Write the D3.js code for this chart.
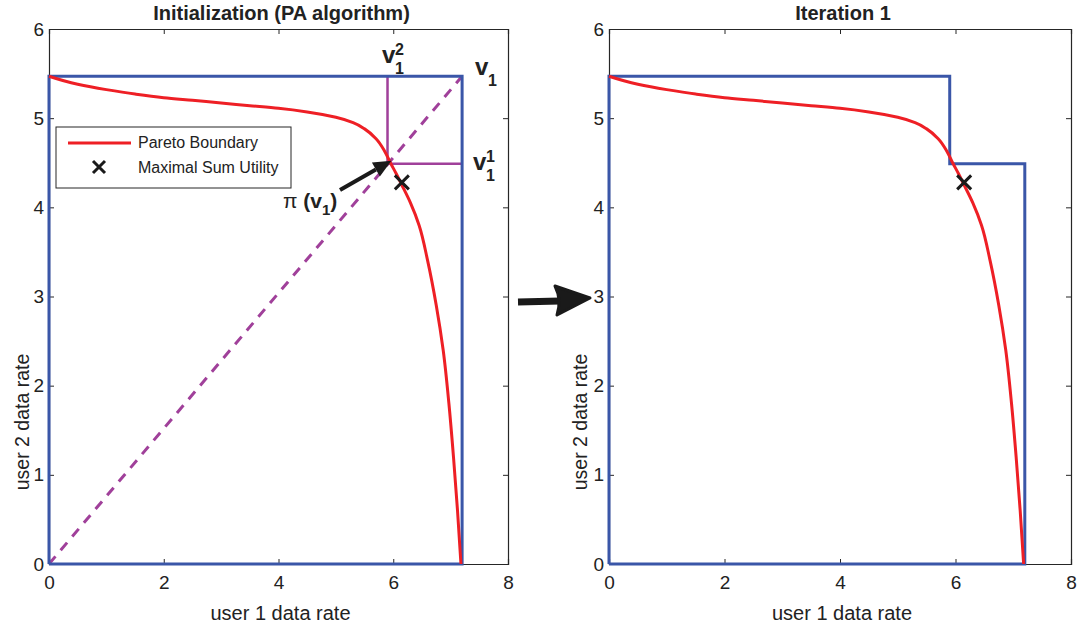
<!DOCTYPE html>
<html><head><meta charset="utf-8">
<script src="https://cdn.jsdelivr.net/npm/d3@7"></script>
<style>body{margin:0;background:#fff}svg{display:block}text{font-family:"Liberation Sans",Arial,sans-serif}</style>
</head><body><svg id="c" width="1078" height="628"></svg>
<script>
const xTicks=[0,2,4,6,8];
const yTicks=[0,1,2,3,4,5,6];
const paretoX=[0,0.5,1,1.5,2,2.5,3,3.5,4,4.5,5,5.3,5.5,5.7,5.85,5.95,6.05,6.15,6.3,6.45,6.6,6.75,6.87,6.97,7.05,7.12,7.18];
const paretoY=[5.47,5.38,5.32,5.27,5.23,5.2,5.17,5.14,5.11,5.07,5.01,4.95,4.88,4.77,4.63,4.5,4.38,4.25,4.05,3.8,3.4,2.9,2.4,1.8,1.2,0.6,0];
const v1=[7.2,5.47];
const piv1=[5.9,4.49];
const maxSum=[6.15,4.28];
const titles=["Initialization (PA algorithm)","Iteration 1"];

const svg=d3.select("#c");
const panels=[{x0:49,x1:508,ylx:29},{x0:609,x1:1071,ylx:587}];
const yTop=29,yBot=564;
const blue="#3a56a8",red="#ee1f25",purple="#a0409a",ink="#222";

panels.forEach((p,i)=>{
  const x=d3.scaleLinear().domain([0,8]).range([p.x0,p.x1]);
  const y=d3.scaleLinear().domain([0,6]).range([yBot,yTop]);
  const g=svg.append("g");
  const fmt=d3.format("d");
  const ax=g.append("g").attr("transform",`translate(0,${yBot})`).call(d3.axisBottom(x).tickValues(xTicks).tickFormat(fmt).tickSize(-5).tickPadding(11));
  const axT=g.append("g").attr("transform",`translate(0,${yTop})`).call(d3.axisTop(x).tickValues(xTicks).tickSize(-5).tickFormat(""));
  const ay=g.append("g").attr("transform",`translate(${p.x0},0)`).call(d3.axisLeft(y).tickValues(yTicks).tickFormat(fmt).tickSize(-5).tickPadding(5));
  const ayR=g.append("g").attr("transform",`translate(${p.x1},0)`).call(d3.axisRight(y).tickValues(yTicks).tickSize(-5).tickFormat(""));
  [ax,axT,ay,ayR].forEach(a=>{a.attr("font-size",null).attr("font-family",null);a.selectAll("path").attr("stroke","#262626").attr("stroke-width",1.2);a.selectAll("line").attr("stroke","#262626");a.selectAll("text").style("font-size","19px").attr("fill",ink);});
  ax.selectAll("text").attr("dy","0.75em");
  g.append("text").attr("x",(p.x0+p.x1)/2+3).attr("y",20).attr("text-anchor","middle").attr("font-weight","bold").style("font-size","20px").attr("fill",ink).text(titles[i]);
  g.append("text").attr("x",(p.x0+p.x1)/2+2).attr("y",620).attr("text-anchor","middle").style("font-size","20px").attr("fill",ink).text("user 1 data rate");
  g.append("text").attr("transform",`translate(${p.ylx},${422}) rotate(-90)`).attr("text-anchor","middle").style("font-size","19.5px").attr("fill",ink).text("user 2 data rate");

  const line=d3.line().x(d=>x(d[0])).y(d=>y(d[1]));
  let rect;
  if(i===0){
    rect=[[0,0],[0,v1[1]],[v1[0],v1[1]],[v1[0],0],[0,0]];
  } else {
    rect=[[0,0],[0,v1[1]],[piv1[0],v1[1]],[piv1[0],piv1[1]],[v1[0],piv1[1]],[v1[0],0],[0,0]];
  }
  if(i===0){
    g.append("path").attr("d",line([[0,0],v1])).attr("stroke",purple).attr("stroke-width",3).attr("stroke-dasharray","10,8").attr("fill","none");
    g.append("path").attr("d",line([[piv1[0],v1[1]],piv1,[v1[0],piv1[1]]])).attr("stroke",purple).attr("stroke-width",2.5).attr("fill","none");
  }
  g.append("path").attr("d",line(rect)).attr("stroke",blue).attr("stroke-width",3).attr("fill","none");
  g.append("path").attr("d",d3.line().x(d=>x(d[0])).y(d=>y(d[1])).curve(d3.curveMonotoneY)(paretoX.map((v,k)=>[v,paretoY[k]]))).attr("stroke",red).attr("stroke-width",3).attr("fill","none");
  const mx=x(maxSum[0]),my=y(maxSum[1]),s=7;
  g.append("path").attr("d",`M${mx-s},${my-s}L${mx+s},${my+s}M${mx-s},${my+s}L${mx+s},${my-s}`).attr("stroke","#1a1a1a").attr("stroke-width",3);

  if(i===0){
    const lg=g.append("g");
    lg.append("rect").attr("x",56).attr("y",127).attr("width",235).attr("height",61).attr("fill","#fff").attr("stroke","#262626").attr("stroke-width",1);
    lg.append("line").attr("x1",68).attr("x2",131).attr("y1",143).attr("y2",143).attr("stroke",red).attr("stroke-width",3);
    lg.append("text").attr("x",138).attr("y",148).style("font-size","16px").attr("fill",ink).text("Pareto Boundary");
    lg.append("path").attr("d",`M${99-6},${167-6}L${99+6},${167+6}M${99-6},${167+6}L${99+6},${167-6}`).attr("stroke","#1a1a1a").attr("stroke-width",3);
    lg.append("text").attr("x",138).attr("y",173).style("font-size","16px").attr("fill",ink).text("Maximal Sum Utility");
    const lab=(tx,ty,sup,sub)=>{
      g.append("text").attr("x",tx).attr("y",ty).attr("font-weight","bold").style("font-size","24px").attr("fill",ink).text("v");
      if(sup) g.append("text").attr("x",tx+13).attr("y",ty-8).attr("font-weight","bold").style("font-size","16px").attr("fill",ink).text(sup);
      g.append("text").attr("x",tx+13).attr("y",ty+11).attr("font-weight","bold").style("font-size","16px").attr("fill",ink).text(sub);
    };
    lab(382,63,"2","1");
    lab(475,75,null,"1");
    lab(473,170,"1","1");
    const pt=g.append("text").attr("x",283).attr("y",208).attr("font-weight","bold").style("font-size","21px").attr("fill",ink);
    pt.append("tspan").attr("font-weight","normal").text("π");
    pt.append("tspan").text(" (v");
    pt.append("tspan").style("font-size","15px").attr("dy",7).text("1");
    pt.append("tspan").attr("dy",-7).text(")");
    const ax0=340,ay0=190,ax1=x(piv1[0])+4,ay1=y(piv1[1])-3;
    const ang=Math.atan2(ay1-ay0,ax1-ax0);
    const hl=18,hw=8;
    const bx=ax1-hl*Math.cos(ang),by=ay1-hl*Math.sin(ang);
    g.append("line").attr("x1",ax0).attr("y1",ay0).attr("x2",bx).attr("y2",by).attr("stroke","#1a1a1a").attr("stroke-width",4);
    g.append("path").attr("d",`M${ax1},${ay1}L${bx+hw*Math.sin(ang)},${by-hw*Math.cos(ang)}L${bx-hw*Math.sin(ang)},${by+hw*Math.cos(ang)}Z`).attr("fill","#1a1a1a");
  }
});
svg.append("line").attr("x1",518).attr("y1",302).attr("x2",560).attr("y2",301).attr("stroke","#1a1a1a").attr("stroke-width",7);
svg.append("path").attr("d","M590,298 L555,286 Q562,300 557,315 Z").attr("fill","#1a1a1a").attr("stroke","#1a1a1a").attr("stroke-width",3).attr("stroke-linejoin","round");
</script></body></html>
